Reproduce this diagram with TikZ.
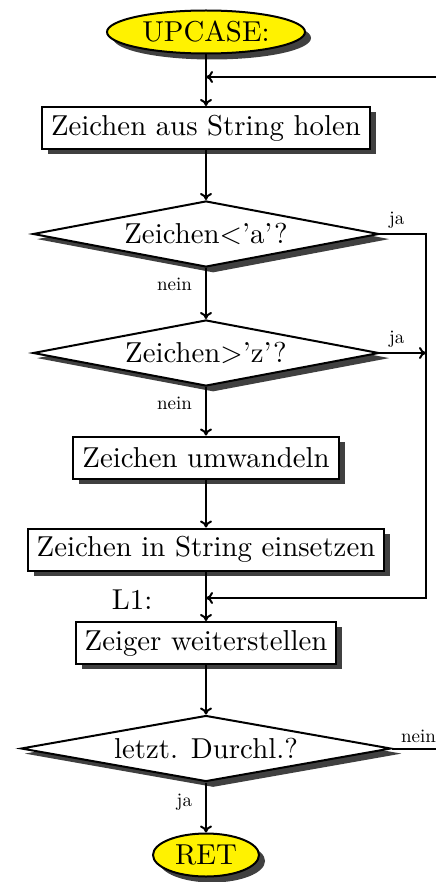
\documentclass[tikz,border=0pt]{standalone}
\usepackage{fontspec}
\setmainfont{lmroman10-regular.otf}[Ligatures=TeX]
\usepackage{tikz}
\usetikzlibrary{arrows.meta,positioning,shapes.geometric,shadows}

\begin{document}
\begin{tikzpicture}[
    line width=1pt, on grid,
    >={To[length=3.5pt,width=6pt]},
    big/.style={font=\fontsize{14.4}{17}\selectfont},
    term/.style={ellipse, draw, fill=yellow, inner sep=0pt, big,
                 minimum height=21.5pt,
                 drop shadow={shadow xshift=3pt, shadow yshift=-3pt,
                              fill=black!75, opacity=1}},
    box/.style={rectangle, draw, fill=white, minimum height=21pt,
                inner xsep=4.5pt, big,
                drop shadow={shadow xshift=3pt, shadow yshift=-2.5pt,
                             fill=black!75, opacity=1}},
    decision/.style={diamond, aspect=5, draw, fill=white, inner sep=0pt,
                     minimum height=33pt, big,
                     drop shadow={shadow xshift=3.5pt, shadow yshift=-2.5pt,
                                  shadow scale=1.02, fill=black!75, opacity=1}},
    lbl/.style={font=\fontsize{9.5}{11}\selectfont, inner sep=2.5pt},
]
\useasboundingbox (0,0) rectangle (218pt,-441pt);

% Flow
\node[term, minimum width=99pt] (upcase) at (103pt,-16pt) {UPCASE:};
\node[box, below=48pt of upcase] (holen) {Zeichen aus String holen};
\node[decision, minimum width=173pt, below=53pt of holen] (kleina) {Zeichen<'a'?};
\node[decision, minimum width=173pt, below=59.5pt of kleina] (groessz) {Zeichen>'z'?};
\node[box, below=52.25pt of groessz] (wandeln) {Zeichen umwandeln};
\node[box, below=46pt of wandeln] (einsetzen) {Zeichen in String einsetzen};
\node[box, below=46.75pt of einsetzen] (zeiger) {Zeiger weiterstellen};
\node[decision, minimum width=185pt, below=52.75pt of zeiger] (letzt) {letzt. Durchl.?};
\node[term, minimum width=53pt, below=53.25pt of letzt] (ret) {RET};

% Loop entry, right rail and jump target
\coordinate (loopin) at (218pt,-38.5pt);
\coordinate (rail) at (213pt,-38.5pt);
\coordinate (l1) at (103pt,-299pt);
\node[big, anchor=east] (l1lbl) at ([xshift=-23pt,yshift=-1pt]l1) {L1:};

\foreach \a/\b in {upcase/holen, holen/kleina, wandeln/einsetzen,
                   einsetzen/zeiger, zeiger/letzt}
    \draw[->] (\a) -- (\b);

\draw[->] (kleina) -- node[lbl, pos=0.33, anchor=east, xshift=-4pt] {nein} (groessz);
\draw[->] (groessz) -- node[lbl, pos=0.33, anchor=east, xshift=-4pt] {nein} (wandeln);
\draw[->] (letzt) -- node[lbl, pos=0.4, anchor=east, xshift=-4pt] {ja} (ret);

\draw[->] (loopin) -- (loopin -| holen);
\draw[->] (kleina.east) node[lbl, anchor=south west, xshift=1.5pt] {ja}
    -- (kleina.east -| rail) -- (rail |- l1) -- (l1);
\draw[->] (groessz.east) node[lbl, anchor=south west, xshift=1.5pt] {ja}
    -- (groessz.east -| rail);
\draw (letzt.east) node[lbl, anchor=south west, xshift=1.5pt] {nein}
    -- (letzt.east -| loopin);
\end{tikzpicture}
\end{document}
